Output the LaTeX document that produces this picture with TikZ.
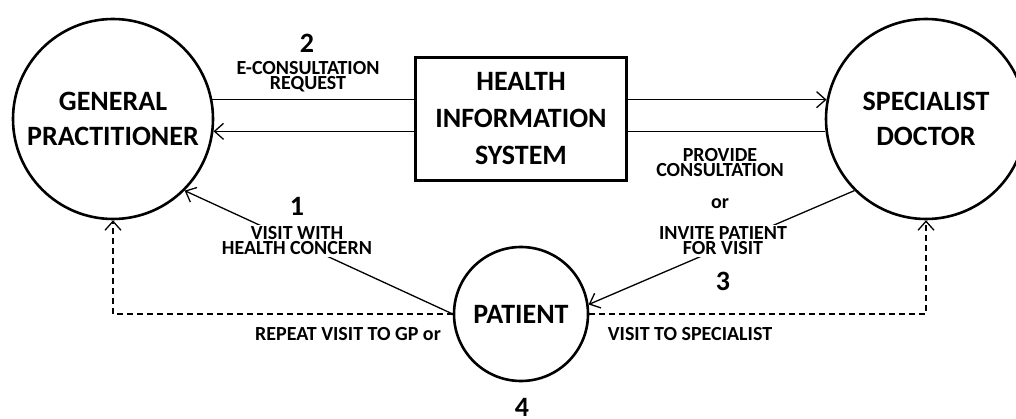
\documentclass[tikz,border=0pt]{standalone}
\usepackage{fontspec}
\setmainfont{Carlito}
\usetikzlibrary{arrows.meta}
\begin{document}
\begin{tikzpicture}[
        x=1pt, y=-1pt,
        actor/.style={circle, draw, line width=2.6pt, minimum size=200pt, align=center,
          font=\fontsize{28}{35}\selectfont\bfseries},
        patient/.style={circle, draw, line width=2.6pt, minimum size=134pt,
          font=\fontsize{28}{35}\selectfont\bfseries},
        system/.style={rectangle, draw, line width=2.6pt, minimum width=211pt, minimum height=123pt,
          align=center, font=\fontsize{28}{37}\selectfont\bfseries},
        flow/.style={line width=1.3pt, -{Straight Barb[length=9pt,width=16pt]}},
        plain/.style={line width=1.3pt},
        note/.style={align=center, inner sep=2pt, font=\fontsize{20}{15}\selectfont\bfseries},
        num/.style={inner sep=1pt, font=\fontsize{28}{34}\selectfont\bfseries}
      ]
      \useasboundingbox (0,0) rectangle (1016,419);
      \node[actor] (gp) at (113,119) {GENERAL \\ PRACTITIONER};
      \node[actor] (sd) at (926,119) {SPECIALIST \\ DOCTOR};
      \node[system] (hs) at (521,119) {HEALTH \\ INFORMATION \\ SYSTEM};
      \node[patient] (pt) at (521,314) {PATIENT};

      \draw[plain] (gp.11) -- (gp.11 -| hs.west);
      \draw[flow] (hs.west |- gp.-7) -- (gp.-7);
      \draw[flow] (hs.east |- sd.169) -- (sd.169);
      \draw[plain] (hs.east |- sd.187) -- (sd.187);
      \draw[flow] (pt.west) -- (gp.south east);
      \draw[flow] (sd.south west) -- (pt.8);
      \draw[flow, dash pattern=on 6pt off 4pt] (pt.west) -| (gp.south);
      \draw[flow, dash pattern=on 6pt off 4pt] (pt.east) -| (sd.south);

      \node[num] (n2) at (307,43) {2};
      \node[note] (request) at (308,77) {E-CONSULTATION \\ REQUEST};
      \node[note] (provide) at (720,163) {PROVIDE \\ CONSULTATION};
      \node[note] (or) at (720,204) {or};
      \node[note, fill=white] (invite) at (723,241) {INVITE PATIENT \\ FOR VISIT};
      \node[num] (n3) at (723,281) {3};
      \node[num] (n1) at (297,206) {1};
      \node[note, fill=white] (visit) at (297,241) {VISIT WITH \\ HEALTH CONCERN};
      \node[note] (repeat) at (348,334) {REPEAT VISIT TO GP or};
      \node[note] (tosd) at (690,334) {VISIT TO SPECIALIST};
      \node[num] (n4) at (522,407) {4};
      \end{tikzpicture}
\end{document}
